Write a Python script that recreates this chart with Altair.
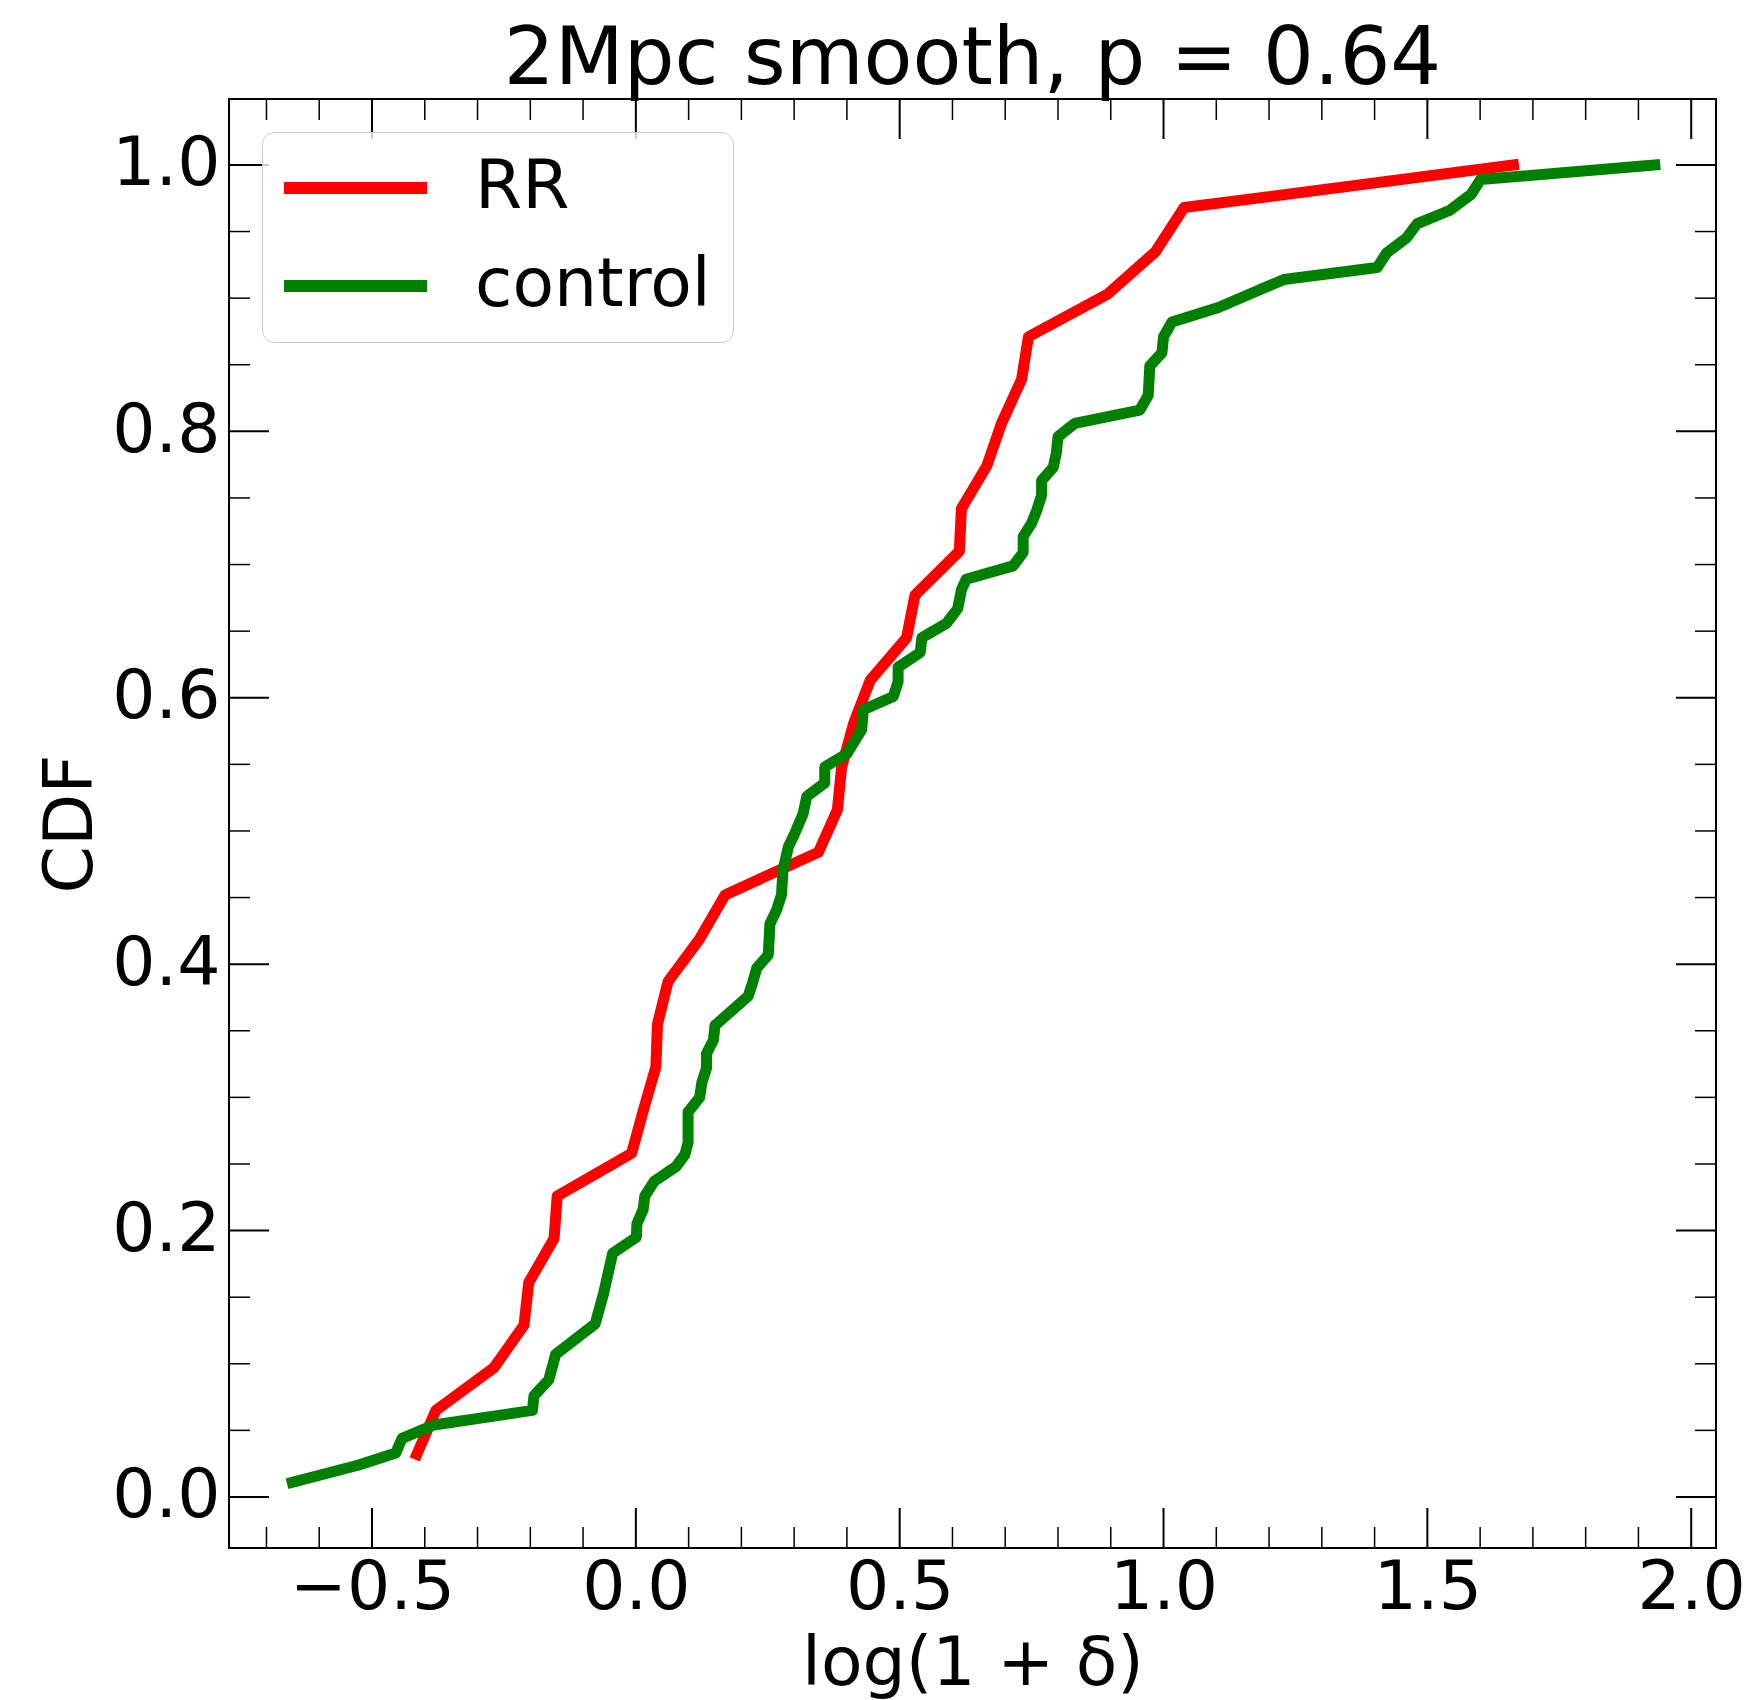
import altair as alt
import pandas as pd

# ---- data ----
series = ["RR", "control"]
colors = ["#ff0000", "#008000"]

red_x = [-0.415, -0.379, -0.269, -0.212, -0.203, -0.155, -0.149, -0.008, 0.014, 0.038,
         0.041, 0.061, 0.121, 0.169, 0.346, 0.382, 0.390, 0.413, 0.444, 0.513,
         0.529, 0.613, 0.617, 0.665, 0.693, 0.731, 0.744, 0.894, 0.985, 1.039, 1.663]
red_y = [0.032, 0.065, 0.097, 0.129, 0.161, 0.194, 0.226, 0.258, 0.290, 0.323,
         0.355, 0.387, 0.419, 0.452, 0.484, 0.516, 0.548, 0.581, 0.613, 0.645,
         0.677, 0.710, 0.742, 0.774, 0.806, 0.839, 0.871, 0.903, 0.935, 0.968, 1.0]

green_x = [-0.651, -0.525, -0.455, -0.443, -0.383, -0.196, -0.193, -0.165, -0.152, -0.077,
           -0.061, -0.044, 0.001, 0.002, 0.014, 0.017, 0.035, 0.076, 0.093, 0.099,
           0.099, 0.121, 0.125, 0.134, 0.134, 0.147, 0.150, 0.213, 0.222, 0.229,
           0.251, 0.254, 0.267, 0.276, 0.279, 0.289, 0.301, 0.317, 0.324, 0.358,
           0.358, 0.400, 0.428, 0.431, 0.488, 0.497, 0.497, 0.539, 0.542, 0.589,
           0.610, 0.617, 0.626, 0.715, 0.734, 0.734, 0.750, 0.760, 0.769, 0.769,
           0.791, 0.797, 0.800, 0.832, 0.955, 0.971, 0.974, 0.997, 1.000, 1.016,
           1.104, 1.228, 1.405, 1.423, 1.460, 1.481, 1.543, 1.583, 1.601, 1.931]
green_y = [0.011, 0.024, 0.033, 0.044, 0.054, 0.065, 0.076, 0.088, 0.107, 0.130,
           0.153, 0.183, 0.195, 0.205, 0.216, 0.226, 0.237, 0.248, 0.257, 0.266,
           0.289, 0.300, 0.311, 0.322, 0.333, 0.343, 0.354, 0.376, 0.387, 0.397,
           0.407, 0.430, 0.441, 0.452, 0.471, 0.488, 0.498, 0.513, 0.526, 0.536,
           0.548, 0.558, 0.576, 0.591, 0.601, 0.612, 0.623, 0.634, 0.645, 0.656,
           0.667, 0.681, 0.689, 0.699, 0.709, 0.721, 0.731, 0.741, 0.752, 0.763,
           0.773, 0.784, 0.796, 0.806, 0.816, 0.827, 0.849, 0.859, 0.871, 0.882,
           0.893, 0.914, 0.923, 0.934, 0.945, 0.956, 0.966, 0.978, 0.989, 1.0]

x_major = [-0.5, 0.0, 0.5, 1.0, 1.5, 2.0]
x_minor = [-0.7, -0.6, -0.4, -0.3, -0.2, -0.1, 0.1, 0.2, 0.3, 0.4, 0.6, 0.7, 0.8, 0.9,
           1.1, 1.2, 1.3, 1.4, 1.6, 1.7, 1.8, 1.9]
y_major = [0.0, 0.2, 0.4, 0.6, 0.8, 1.0]
y_minor = [0.05, 0.1, 0.15, 0.25, 0.3, 0.35, 0.45, 0.5, 0.55, 0.65, 0.7, 0.75,
           0.85, 0.9, 0.95]

x_domain = [-0.771, 2.047]
y_domain = [-0.0383, 1.0495]

# ---- layout ----
W, H = 1487, 1449
FONT = "DejaVu Sans"
MAJ, MIN = 40, 21

xs = alt.Scale(domain=x_domain, nice=False, zero=False)
ys = alt.Scale(domain=y_domain, nice=False, zero=False)
cs = alt.Scale(domain=series, range=colors)

red_df = pd.DataFrame({"x": red_x, "y": red_y, "s": series[0], "i": range(len(red_x))})
green_df = pd.DataFrame({"x": green_x, "y": green_y, "s": series[1], "i": range(len(green_x))})

x_axis = alt.Axis(title="log(1 + δ)", values=x_major, format=".1f", ticks=False, domain=False,
                  grid=False, labelFontSize=68, labelFont=FONT, labelColor="black",
                  labelPadding=6, labelFlush=False, titleFontSize=68, titleFont=FONT,
                  titleFontWeight="normal", titleColor="black", titlePadding=8)
y_axis = alt.Axis(title="CDF", values=y_major, format=".1f", ticks=False, domain=False,
                  grid=False, labelFontSize=68, labelFont=FONT, labelColor="black",
                  labelPadding=9, labelFlush=False, titleFontSize=68, titleFont=FONT,
                  titleFontWeight="normal", titleColor="black", titlePadding=6)

legend = alt.Legend(title=None, orient="top-left", offset=33, padding=22,
                    fillColor="rgba(255,255,255,0.8)", strokeColor="#cccccc",
                    cornerRadius=12, symbolType="stroke", symbolSize=21025,
                    symbolStrokeWidth=12, symbolOffset=-8, labelFontSize=68, labelFont=FONT,
                    labelColor="black", labelOffset=42, labelLimit=600,
                    clipHeight=68, rowPadding=30)


def line_layer(df):
    return alt.Chart(df).mark_line(strokeWidth=11, strokeCap="square", strokeJoin="round").encode(
        x=alt.X("x:Q", scale=xs, axis=x_axis),
        y=alt.Y("y:Q", scale=ys, axis=y_axis),
        color=alt.Color("s:N", scale=cs, legend=legend),
        order=alt.Order("i:Q"),
    )


def xtick_layer(vals, length, width, top):
    y0 = 0 if top else H
    y1 = length if top else H - length
    return alt.Chart(pd.DataFrame({"x": vals})).mark_rule(color="black", strokeWidth=width).encode(
        x=alt.X("x:Q", scale=xs, axis=x_axis), y=alt.value(y0), y2=alt.value(y1))


def ytick_layer(vals, length, width, right):
    x0 = W if right else 0
    x1 = W - length if right else length
    return alt.Chart(pd.DataFrame({"y": vals})).mark_rule(color="black", strokeWidth=width).encode(
        y=alt.Y("y:Q", scale=ys, axis=y_axis), x=alt.value(x0), x2=alt.value(x1))


ticks = [
    xtick_layer(x_major, MAJ, 2, False), xtick_layer(x_major, MAJ, 2, True),
    xtick_layer(x_minor, MIN, 1.5, False), xtick_layer(x_minor, MIN, 1.5, True),
    ytick_layer(y_major, MAJ, 2, False), ytick_layer(y_major, MAJ, 2, True),
    ytick_layer(y_minor, MIN, 1.5, False), ytick_layer(y_minor, MIN, 1.5, True),
]

chart = alt.layer(line_layer(red_df), line_layer(green_df), *ticks).properties(
    width=W, height=H,
    title=alt.TitleParams(text="2Mpc smooth, p = 0.64", fontSize=80, font=FONT,
                          fontWeight="normal", color="black", anchor="middle", offset=-3),
    autosize=alt.AutoSizeParams(type="none"),
    padding={"left": 229, "top": 99, "right": 37, "bottom": 152},
).configure_view(stroke="black", strokeWidth=2)

chart.save("out.html", embed_options={"renderer": "svg", "actions": False})
